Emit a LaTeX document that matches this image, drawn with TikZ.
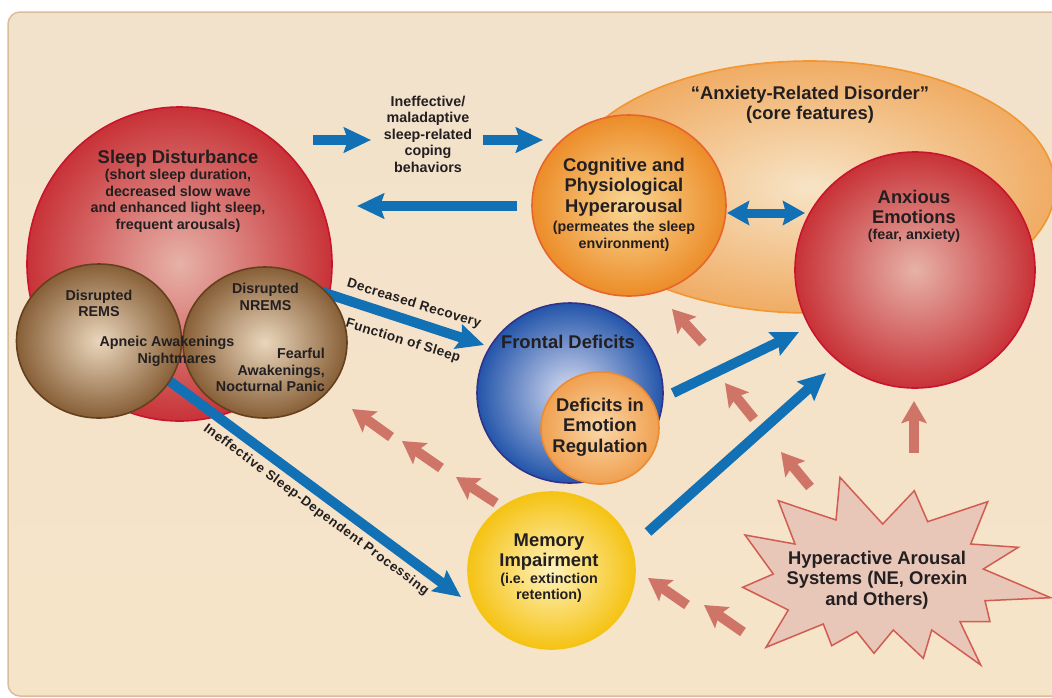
\documentclass[tikz,border=0pt]{standalone}
\usepackage{fontspec}
\setmainfont{Liberation Sans}
\usetikzlibrary{arrows.meta,shapes.geometric}

\definecolor{redin}{RGB}{230,178,168}
\definecolor{redout}{RGB}{200,50,55}
\definecolor{redline}{RGB}{200,20,45}
\definecolor{brownin}{RGB}{234,214,188}
\definecolor{brownout}{RGB}{135,95,55}
\definecolor{brownline}{RGB}{100,65,30}
\definecolor{orgin}{RGB}{250,216,150}
\definecolor{orgout}{RGB}{236,140,40}
\definecolor{orgline}{RGB}{232,100,45}
\definecolor{anxin}{RGB}{247,228,198}
\definecolor{anxout}{RGB}{240,172,100}
\definecolor{anxline}{RGB}{242,150,50}
\definecolor{bluein}{RGB}{218,222,242}
\definecolor{blueout}{RGB}{35,85,170}
\definecolor{blueline}{RGB}{50,50,140}
\definecolor{defin}{RGB}{250,216,168}
\definecolor{defout}{RGB}{240,160,80}
\definecolor{defline}{RGB}{236,140,50}
\definecolor{yelin}{RGB}{255,242,190}
\definecolor{yelout}{RGB}{245,195,20}
\definecolor{arrowblue}{RGB}{18,112,180}
\definecolor{salmon}{RGB}{206,117,103}
\definecolor{burstfill}{RGB}{232,198,184}
\definecolor{burstline}{RGB}{208,92,82}
\definecolor{bgtop}{RGB}{242,226,203}
\definecolor{bgmid}{RGB}{237,236,239}
\definecolor{bgbot}{RGB}{246,228,200}
\definecolor{bgline}{RGB}{218,190,155}
\definecolor{txtdark}{RGB}{35,31,32}

\newcommand{\titlefont}{\fontsize{18.4}{20.3}\selectfont\bfseries}
\newcommand{\subfont}{\fontsize{14.3}{16.5}\selectfont\bfseries}
\newcommand{\smallfont}{\fontsize{13.5}{16}\selectfont\bfseries\addfontfeatures{LetterSpace=3}}

\tikzstyle{ball}=[ellipse, inner sep=0pt, line width=1.6pt]
\tikzstyle{txt}=[inner sep=0pt, align=center, text=txtdark]
\tikzstyle{bluearrow}=[draw=arrowblue, line width=10pt, -{Stealth[length=27pt,width=25pt,inset=4pt]}]
\tikzstyle{dblarrow}=[draw=arrowblue, line width=9pt, {Stealth[length=22pt,width=24pt,inset=3pt]}-{Stealth[length=22pt,width=24pt,inset=3pt]}]
\tikzstyle{salmonarrow}=[draw=salmon, line width=10pt, -{Stealth[length=22pt,width=25pt,inset=4pt]}]

\begin{document}
\begin{tikzpicture}[x=1pt,y=-1pt]
\useasboundingbox (0,0) rectangle (1052,697);
\draw[rounded corners=12pt, draw=bgline, line width=1.5pt, top color=bgtop, middle color=bgmid, bottom color=bgbot] (8,12) rectangle (1080,696);

\node[ball, minimum width=490pt, minimum height=252pt, draw=anxline, inner color=anxin, outer color=anxout] (anxdis) at (810,187) {};
\node[txt, font=\titlefont] (anxdistxt) at (810,105) {``Anxiety-Related Disorder''\\(core features)};

\node[ball, minimum width=305pt, minimum height=314pt, draw=redline, inner color=redin, outer color=redout] (sleep) at (179.5,264) {};
\node[txt, font=\titlefont] (sleeptitle) at (178,159) {Sleep Disturbance};
\node[txt, font=\subfont] (sleepsub) at (178,201) {(short sleep duration,\\decreased slow wave\\and enhanced light sleep,\\frequent arousals)};

\coordinate (procstart) at (160,374);
\coordinate (procend) at (461,597);
\coordinate (recovstart) at (322,292);
\coordinate (recovend) at (484,345);
\draw[bluearrow] (procstart) -- (procend);
\draw[bluearrow] (recovstart) -- (recovend);

\node[ball, minimum width=165pt, minimum height=154pt, draw=brownline, inner color=brownin, outer color=brownout] (rems) at (99,341) {};
\node[ball, minimum width=164pt, minimum height=151pt, draw=brownline, inner color=brownin, outer color=brownout] (nrems) at (265,342.5) {};
\node[txt, font=\subfont] (remstxt) at (99,303.5) {Disrupted\\REMS};
\node[txt, font=\subfont] (nremstxt) at (265.5,297) {Disrupted\\NREMS};
\node[txt, font=\subfont] (apneic) at (167,343) {Apneic Awakenings};
\node[txt, font=\subfont] (nightmares) at (177,360) {Nightmares};
\node[txt, font=\subfont, align=right, anchor=east] (fearful) at (325,370) {Fearful\\Awakenings,\\Nocturnal Panic};

\node[txt, font=\smallfont, rotate=-17] (recovtxt) at (414,304) {Decreased Recovery};
\node[txt, font=\smallfont, rotate=-17] (functxt) at (403,341) {Function of Sleep};
\node[txt, font=\fontsize{13.3}{15}\selectfont\bfseries\addfontfeatures{LetterSpace=5}, rotate=-36.6] (proctxt) at (316,510) {Ineffective Sleep-Dependent Processing};

\node[txt, font=\subfont] (coping) at (428,134) {Ineffective/\\maladaptive\\sleep-related\\coping\\behaviors};
\coordinate (top1a) at (313,140);
\coordinate (top1b) at (371,140);
\coordinate (top2a) at (483,140);
\coordinate (top2b) at (543,140);
\coordinate (backa) at (517,206);
\coordinate (backb) at (357,206);
\draw[bluearrow] (top1a) -- (top1b);
\draw[bluearrow] (top2a) -- (top2b);
\draw[bluearrow] (backa) -- (backb);

\node[ball, minimum width=194pt, minimum height=181pt, draw=orgline, inner color=orgin, outer color=orgout] (cogn) at (629,205.5) {};
\node[txt, font=\titlefont] (cogntitle) at (624,187) {Cognitive and\\Physiological\\Hyperarousal};
\node[txt, font=\subfont] (cognsub) at (624,236.5) {(permeates the sleep\\environment)};

\node[ball, minimum width=240pt, minimum height=236pt, draw=redline, inner color=redin, outer color=redout] (anxious) at (915,270) {};
\node[txt, font=\titlefont] (anxioustitle) at (914,207) {Anxious\\Emotions};
\node[txt, font=\subfont] (anxioussub) at (914,236) {(fear, anxiety)};

\coordinate (dbla) at (727,213);
\coordinate (dblb) at (805,213);
\draw[dblarrow] (dbla) -- (dblb);

\node[ball, minimum width=186pt, minimum height=180pt, draw=blueline, inner color=bluein, outer color=blueout] (frontal) at (570,393) {};
\node[txt, font=\titlefont] (frontaltxt) at (568,342) {Frontal Deficits};
\node[ball, minimum width=118pt, minimum height=112pt, draw=defline, inner color=defin, outer color=defout] (deficits) at (600,428) {};
\node[txt, font=\titlefont] (deficitstxt) at (600,427) {Deficits in\\Emotion\\Regulation};

\node[ball, minimum width=167pt, minimum height=157pt, draw=yelout, inner color=yelin, outer color=yelout] (memory) at (551.5,570.5) {};
\node[txt, font=\titlefont] (memorytitle) at (549,552) {Memory\\Impairment};
\node[txt, font=\subfont] (memorysub) at (549,588) {(i.e. extinction\\retention)};

\coordinate (fra) at (673,393);
\coordinate (frb) at (799,332);
\coordinate (mema) at (648,532);
\coordinate (memb) at (826,373);
\draw[bluearrow] (fra) -- (frb);
\draw[bluearrow] (mema) -- (memb);

\draw[draw=burstline, line width=1.5pt, fill=burstfill] (778.3,500.7) -- (836,520) -- (840,477.3) -- (882.7,524) -- (914.3,490.7) -- (927.7,521.7) -- (987.7,501.7) -- (970.7,544) -- (1018.3,547.3) -- (983.3,569) -- (1050.7,597.7) -- (985,600.7) -- (990,621.7) -- (960,621.7) -- (980.7,665) -- (931.7,630) -- (923.3,658.3) -- (893.3,630) -- (874,653.3) -- (856.7,631.7) -- (831.7,645.7) -- (823.3,624) -- (766,647.3) -- (788.3,610) -- (742.7,587.3) -- (773.3,574) -- (745,535) -- (795,544) -- cycle;
\node[txt, font=\titlefont] (hyper) at (877,580) {Hyperactive Arousal\\Systems (NE, Orexin\\and Others)};

\coordinate (s1a) at (391,437);
\coordinate (s1b) at (352,409);
\coordinate (s2a) at (441,468);
\coordinate (s2b) at (402,441);
\coordinate (s3a) at (496,503);
\coordinate (s3b) at (456,477);
\coordinate (c1a) at (703,343);
\coordinate (c1b) at (672,309);
\coordinate (c2a) at (754,419);
\coordinate (c2b) at (725,383);
\coordinate (c3a) at (810,487);
\coordinate (c3b) at (781,452);
\coordinate (c4a) at (914,453);
\coordinate (c4b) at (914,401);
\coordinate (c5a) at (687,605);
\coordinate (c5b) at (648,578);
\coordinate (c6a) at (743,632);
\coordinate (c6b) at (704,605);
\draw[salmonarrow] (s1a) -- (s1b);
\draw[salmonarrow] (s2a) -- (s2b);
\draw[salmonarrow] (s3a) -- (s3b);
\draw[salmonarrow] (c1a) -- (c1b);
\draw[salmonarrow] (c2a) -- (c2b);
\draw[salmonarrow] (c3a) -- (c3b);
\draw[salmonarrow] (c4a) -- (c4b);
\draw[salmonarrow] (c5a) -- (c5b);
\draw[salmonarrow] (c6a) -- (c6b);
\end{tikzpicture}
\end{document}
